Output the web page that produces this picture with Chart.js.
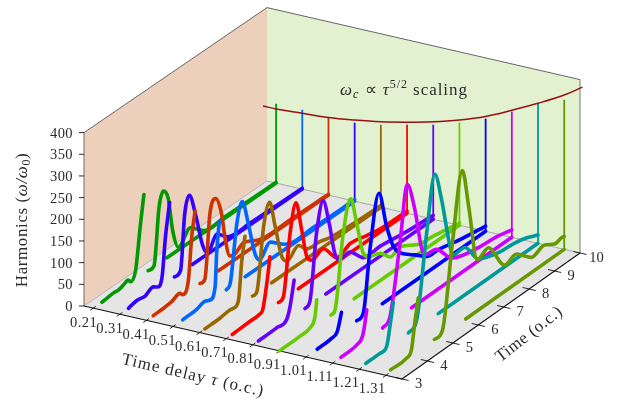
<!DOCTYPE html>
<html><head><meta charset="utf-8">
<style>html,body{margin:0;padding:0;background:#fff}canvas{display:block}</style>
<script src="https://cdn.jsdelivr.net/npm/chart.js@4"></script>
</head><body><canvas id="c" width="621" height="401"></canvas>
<script>
const tauTicks=[0.21,0.31,0.41,0.51,0.61,0.71,0.81,0.91,1.01,1.11,1.21,1.31];
const timeTicks=[3,4,5,6,7,8,9,10];
const harmonicTicks=[0,50,100,150,200,250,300,350,400];
const curveColors=['#009900','#3300ff','#cc3300','#0066ff','#996600','#ff0000','#6600ff','#66cc00','#0000ff','#cc00ff','#009999','#669900'];
const cutoffColors=['#009900','#0066ff','#cc3300','#3300ff','#996600','#ff0000','#6600ff','#66cc00','#0000ff','#cc00ff','#009999','#669900'];
// each pair is [time, harmonic]
const frontPulse=[
 [[3.33,0],[3.52,1],[3.78,3],[3.97,2],[4.23,8],[4.33,10],[4.43,2],[4.62,20],[4.81,120],[4.94,182]],
 [[3.33,0],[3.65,5],[3.97,2],[4.29,10],[4.45,3],[4.62,19],[4.75,106],[4.91,179]],
 [[3.26,0],[3.71,1],[3.97,3],[4.29,9],[4.39,2],[4.61,25],[4.74,120],[4.87,175]],
 [[3.37,0],[3.91,2],[4.25,7],[4.43,2],[4.62,24],[4.68,99],[4.78,168]],
 [[3.2,0],[3.79,1],[4.18,4],[4.33,2],[4.5,13],[4.63,100],[4.75,150]],
 [[3.23,0],[3.92,2],[4.3,3],[4.41,8],[4.57,63],[4.69,119]],
 [[3.21,0],[3.92,1],[4.31,4],[4.44,28],[4.6,83]],
 [[3,0],[3.8,1],[4.19,4],[4.38,22],[4.45,58]],
 [[3.43,0],[3.99,2],[4.21,8],[4.38,46]],
 [[3.32,0],[3.93,3],[4.16,13],[4.26,40],[4.33,68]],
 [[3.25,3],[3.81,3],[4.07,8],[4.2,49],[4.33,99]],
 [[3.18,5],[3.8,6],[4,17],[4.13,73],[4.27,126]]
];
const mainPeak=[
 [[5.1,0],[5.33,2],[5.52,129],[5.69,159],[5.87,135],[6.04,54],[6.26,6],[6.72,32],[7.27,3],[8,3],[9,2],[10,2]],
 [[5.09,0],[5.33,5],[5.49,129],[5.67,164],[5.9,112],[6.16,32],[6.35,3],[6.74,31],[7.12,9],[8,4],[9,3],[10,2]],
 [[5.06,0],[5.25,3],[5.44,145],[5.66,171],[5.89,126],[6.02,66],[6.21,16],[6.4,13],[6.75,25],[7.3,8],[8.5,4],[10,2]],
 [[5.05,0],[5.2,8],[5.46,136],[5.67,178],[5.9,117],[6.16,37],[6.33,16],[6.74,40],[7.3,12],[8.5,5],[10,3]],
 [[5.04,0],[5.21,3],[5.47,142],[5.7,189],[5.92,123],[6.18,43],[6.37,26],[6.82,43],[7.13,22],[7.64,18],[8.03,11],[9,6],[10,4]],
 [[5.02,0],[5.21,5],[5.47,141],[5.7,202],[5.92,130],[6.12,60],[6.31,44],[6.76,52],[7.28,10],[7.8,21],[8.44,13],[8.95,7],[10,5]],
 [[5.02,0],[5.21,8],[5.47,155],[5.73,219],[5.96,158],[6.18,79],[6.35,58],[6.77,58],[7.28,24],[7.93,23],[9,14],[10,9]],
 [[5,0],[5.16,5],[5.48,169],[5.77,236],[6,171],[6.26,90],[6.46,74],[6.92,63],[7.31,38],[7.7,46],[8.37,23],[9,17],[10,5]],
 [[4.97,2],[5.23,9],[5.49,145],[5.84,260],[6.14,171],[6.4,115],[6.79,81],[7.24,60],[7.7,37],[8.16,34],[9,22],[10,12]],
 [[4.95,0],[5.24,15],[5.63,168],[5.91,292],[6.21,221],[6.47,122],[6.6,101],[7.06,94],[7.64,50],[8.75,30],[9.4,26],[10,17]],
 [[4.92,4],[5.25,21],[5.64,206],[5.96,327],[6.22,258],[6.55,137],[6.67,111],[7.14,109],[7.66,61],[8.51,42],[9.03,39],[9.56,31],[10,19]],
 [[4.9,4],[5.22,12],[5.61,197],[6,348],[6.25,254],[6.58,118],[7.03,127],[7.65,61],[8.13,67],[8.71,35],[9.23,42],[9.62,28],[9.88,31],[10,30]]
];
const floorStart=[5.82,5.78,5.77,5.78,5.78,5.79,5.83,5.9,5.97,6.08,6.09,6.13];
const cutoffTop=[183,183,180,181,190,204,218,237,260,290,324,345];
const scalingTau=[0.16,0.21,0.31,0.41,0.51,0.61,0.71,0.81,0.91,1.01,1.11,1.21,1.31,1.38];
const scalingHarm=[171,171,175,179,187,197,210,225,243,265,293,323,356,384];

const TAU0=0.1753,TAU1=1.3703,T0=3,T1=10,HS=0.4335;
function project(tau,t,h){
  const u=(tau-TAU0)/(TAU1-TAU0),v=(t-T0)/(T1-T0);
  const fx=84+318*u,fy=306+73*u,bx=267+313*u,by=181+72*u;
  return {x:fx+(bx-fx)*v,y:fy+(by-fy)*v-h*HS};
}
const poly=(pts)=>pts.map(p=>project(p[0],p[1],p[2]));
const base={type:'scatter',showLine:true,pointRadius:0,pointHoverRadius:0};
const layers=[];
function wall(pts,fillCol){
  layers.push({...base,data:poly(pts),fill:'shape',backgroundColor:fillCol,borderColor:'rgba(0,0,0,0)',borderWidth:0,tension:0});
}
function seg(pts,col,w){
  layers.push({...base,data:poly(pts),fill:false,borderColor:col,borderWidth:w,tension:0});
}
wall([[TAU0,T0,0],[TAU0,T1,0],[TAU0,T1,400],[TAU0,T0,400],[TAU0,T0,0]],'#ecd0bb');
wall([[TAU0,T1,0],[TAU1,T1,0],[TAU1,T1,400],[TAU0,T1,400],[TAU0,T1,0]],'#e2f1d0');
wall([[TAU0,T0,0],[TAU1,T0,0],[TAU1,T1,0],[TAU0,T1,0],[TAU0,T0,0]],'#e5e5e5');
seg([[TAU0,T0,0],[TAU0,T1,0]],'#b5b5b5',1);
seg([[TAU0,T1,0],[TAU1,T1,0]],'#a8a8a8',1);
seg([[TAU1,T1,0],[TAU1,T1,400]],'#8c8c8c',1.2);
seg([[TAU0,T1,400],[TAU1,T1,400]],'#666666',1);
seg([[TAU0,T0,400],[TAU0,T1,400]],'#666666',1);
seg([[TAU0,T0,0],[TAU0,T0,400]],'#7a6a5e',1);
seg([[TAU0,T0,0],[TAU1,T0,0]],'#111111',1.1);
seg([[TAU1,T0,0],[TAU1,T1,0]],'#111111',1.1);
tauTicks.forEach(tau=>seg([[tau,2.88,0],[tau,3.1,0]],'#111111',0.9));
timeTicks.forEach(t=>seg([[TAU1-0.025,t,0],[TAU1+0.025,t,0]],'#111111',0.9));
tauTicks.forEach((tau,i)=>{
  seg([[tau,T1,0],[tau,T1,cutoffTop[i]]],cutoffColors[i],1.8);
});
tauTicks.forEach((tau,i)=>{
  const mk=(arr,w)=>layers.push({...base,data:arr.map(p=>project(tau,p[0],p[1])),fill:false,borderColor:curveColors[i],borderWidth:w,borderCapStyle:'round',borderJoinStyle:'round',cubicInterpolationMode:'monotone'});
  mk(frontPulse[i],3.6);
  mk(mainPeak[i],3.6);
  mk([[floorStart[i],0],[10,0]],3.6);
});
layers.push({...base,data:scalingTau.map((tau,i)=>project(tau,T1,scalingHarm[i])),fill:false,borderColor:'#990f14',borderWidth:1.5,tension:0.4,clip:false});
// Chart.js paints the first dataset last, so the list runs from top layer to bottom layer
const datasets=layers.slice().reverse();

const SERIF='"Liberation Serif"';
function runs(ctx,parts,x,y,rot,spacing){
  ctx.save();ctx.translate(x,y);ctx.rotate(rot);ctx.textBaseline='alphabetic';ctx.textAlign='left';ctx.fillStyle='#2b2b2b';
  ctx.letterSpacing=(spacing||0)+'px';
  let w=0;
  parts.forEach(p=>{ctx.font=(p.it?'italic ':'')+p.s+'px '+SERIF;w+=ctx.measureText(p.t).width;});
  let cx=-w/2;
  parts.forEach(p=>{ctx.font=(p.it?'italic ':'')+p.s+'px '+SERIF;ctx.fillText(p.t,cx,p.dy||0);cx+=ctx.measureText(p.t).width;});
  ctx.restore();
}
const labelPlugin={id:'labels3d',afterDraw(chart){
  const ctx=chart.ctx,sx=chart.scales.x,sy=chart.scales.y;
  const px=(p,dx,dy)=>[sx.getPixelForValue(p.x)+dx,sy.getPixelForValue(p.y)+dy];
  harmonicTicks.forEach(h=>{
    const [x,y]=px(project(TAU0,T0,h),-11,5);
    ctx.save();ctx.strokeStyle='#111';ctx.lineWidth=.9;ctx.beginPath();ctx.moveTo(x+6,y-5);ctx.lineTo(x+11,y-5);ctx.stroke();ctx.restore();
    ctx.save();ctx.font='14.5px '+SERIF;ctx.fillStyle='#2b2b2b';ctx.textAlign='right';ctx.letterSpacing='0.4px';ctx.fillText(String(h),x,y);ctx.restore();
  });
  tauTicks.forEach(tau=>{
    const u=(tau-TAU0)/(TAU1-TAU0);
    const [x,y]=px(project(tau,T0,0),-9.5-4.5*u,19-1.5*u);
    runs(ctx,[{t:tau.toFixed(2),s:14.5}],x,y,0,0.4);
  });
  timeTicks.forEach(t=>{
    const [x,y]=px(project(TAU1,t,0),16.5,8.5);
    runs(ctx,[{t:String(t),s:14.5}],x,y,0,0);
  });
  runs(ctx,[{t:'Harmonics (',s:17},{t:'ω/ω',s:17,it:true},{t:'0',s:12,dy:3},{t:')',s:17}],27,220,-Math.PI/2,0.6);
  runs(ctx,[{t:'Time delay ',s:17},{t:'τ',s:17,it:true},{t:' (o.c.)',s:17}],192,380,Math.atan2(73,318),1);
  runs(ctx,[{t:'Time (o.c.)',s:17}],532,338,-Math.atan2(53,68),0.4);
  runs(ctx,[{t:'ω',s:17,it:true},{t:'c',s:12,it:true,dy:3},{t:' ∝ ',s:17},{t:'τ',s:17,it:true},{t:'5/2',s:12,dy:-7},{t:' scaling',s:17}],404,95,0,0.95);
}};
new Chart(document.getElementById('c'),{type:'scatter',data:{datasets},plugins:[labelPlugin],options:{
  responsive:false,animation:false,events:[],layout:{padding:0},
  plugins:{legend:{display:false},tooltip:{enabled:false},title:{display:false}},
  scales:{x:{type:'linear',display:false,min:0,max:621},y:{type:'linear',display:false,min:0,max:401,reverse:true}}
}});
</script></body></html>
